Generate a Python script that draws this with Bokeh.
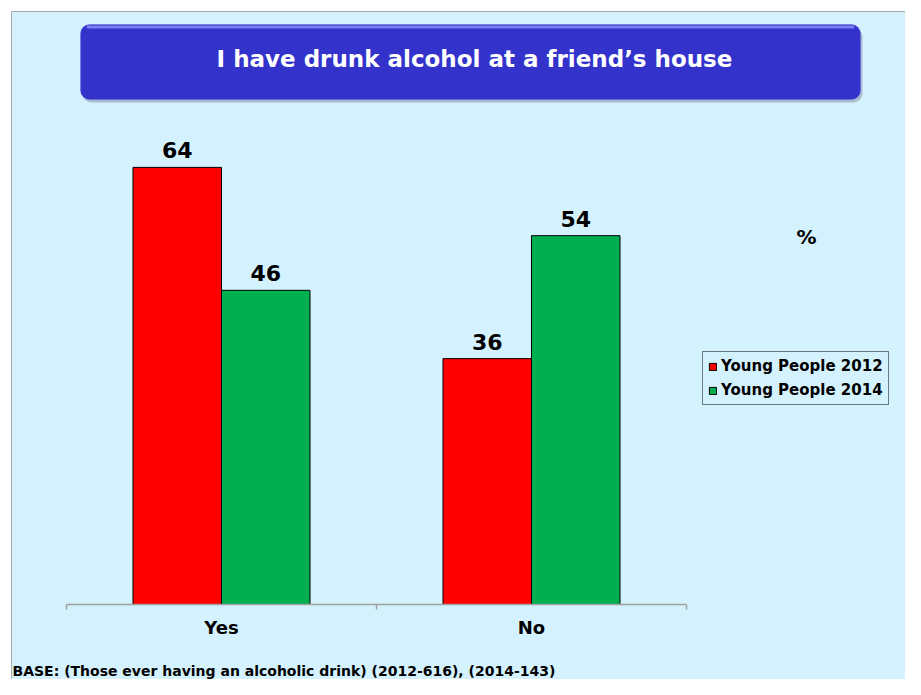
from bokeh.plotting import figure
from bokeh.models import Range1d, Legend, LegendItem, Label, BoxAnnotation, ColumnDataSource
from bokeh.core.properties import value
from bokeh.embed import file_html
from bokeh.resources import INLINE

categories = ["Yes", "No"]
series_names = ["Young People 2012", "Young People 2014"]
values_2012 = [64, 36]
values_2014 = [46, 54]
title_text = "I have drunk alcohol at a friend\u2019s house"
base_text = "BASE: (Those ever having an alcoholic drink) (2012-616), (2014-143)"
unit_text = "%"

BG = "#D4F2FE"
RED = "#FF0000"
GREEN = "#00B050"
AXIS = "#A0A0A0"
FONT = "DejaVu Sans"

W, H = 905, 679
# layout (pixels): category axis from x=66 to 686, baseline at y=604 (from top)
AX_L, AX_R, BASE_Y = 66, 686, 604
px_per_cat = (AX_R - AX_L) / len(categories)
px_per_unit = 6.83

p = figure(width=W, height=H, output_backend="svg", toolbar_location=None,
           x_range=Range1d(-AX_L / px_per_cat, (W - AX_L) / px_per_cat),
           y_range=Range1d(-(H - BASE_Y) / px_per_unit, BASE_Y / px_per_unit),
           x_axis_location=None, y_axis_location=None,
           min_border=0)
p.border_fill_color = "white"
p.background_fill_color = "white"
p.outline_line_color = None
p.grid.visible = False


def sy(img_y):
    return H - img_y


def box(l, r, t, b, **kw):
    return BoxAnnotation(left=l, right=r, top=sy(t), bottom=sy(b),
                         left_units="screen", right_units="screen",
                         bottom_units="screen", top_units="screen", **kw)


# page background panel with left/top black border
p.add_layout(box(11, W + 10, 11, H + 10, fill_color=BG, fill_alpha=1.0,
                 line_color="black", line_width=1, level="underlay"))

bw = 0.2855
off = 0.1427
centers = [i + 0.5 for i in range(len(categories))]
src12 = ColumnDataSource(dict(x=[c - off for c in centers], top=values_2012,
                              label=[str(v) for v in values_2012]))
src14 = ColumnDataSource(dict(x=[c + off for c in centers], top=values_2014,
                              label=[str(v) for v in values_2014]))

r12 = p.vbar(x="x", top="top", width=bw, source=src12, fill_color=RED, line_color="black", line_width=1)
r14 = p.vbar(x="x", top="top", width=bw, source=src14, fill_color=GREEN, line_color="black", line_width=1)

for s in (src12, src14):
    p.text(x="x", y="top", text="label", source=s, text_align="center", text_baseline="bottom",
           y_offset=-9, text_font=value(FONT), text_font_style="bold", text_font_size="22px",
           text_color="black")

# category axis: baseline, separator ticks and labels
bounds = list(range(len(categories) + 1))
p.segment(x0=[0], y0=[0], x1=[len(categories)], y1=[0], line_color=AXIS, line_width=1.5)
p.segment(x0=bounds, y0=[0] * len(bounds), x1=bounds, y1=[-5 / px_per_unit] * len(bounds),
          line_color=AXIS, line_width=1.5)
p.text(x=centers, y=[0] * len(centers), text=categories, text_align="center", text_baseline="top",
       y_offset=12, text_font=value(FONT), text_font_style="bold", text_font_size="18px",
       text_color="black")

# title box
tl, tr_, tt, tb = 80, 860, 24, 99
p.add_layout(box(tl + 2, tr_ + 2, tt + 3, tb + 3, fill_color="#8A9AB0", fill_alpha=0.6,
                 line_color=None, border_radius=9))
p.add_layout(box(tl, tr_, tt, tb, fill_color="#3333CC", fill_alpha=1.0,
                 line_color="#5555DD", line_width=1, border_radius=9))
p.add_layout(box(tl + 6, tr_ - 6, tt + 1, tt + 4, fill_color="#7D7DF0", fill_alpha=1.0,
                 line_color=None, border_radius=2))
p.add_layout(Label(x=474, y=sy(58), x_units="screen", y_units="screen",
                   text=title_text, text_align="center", text_baseline="middle",
                   text_font=FONT, text_font_style="bold", text_font_size="23px",
                   text_color="white"))

p.add_layout(Label(x=806, y=sy(236), x_units="screen", y_units="screen",
                   text=unit_text, text_align="center", text_baseline="middle",
                   text_font=FONT, text_font_style="bold", text_font_size="20px",
                   text_color="black"))

p.add_layout(Label(x=12, y=1, x_units="screen", y_units="screen",
                   text=base_text, text_align="left", text_baseline="bottom",
                   text_font=FONT, text_font_style="bold", text_font_size="14px",
                   text_color="black"))

legend = Legend(items=[LegendItem(label=series_names[0], renderers=[r12]),
                       LegendItem(label=series_names[1], renderers=[r14])],
                location=(702, sy(405)))
legend.label_text_font = FONT
legend.label_text_font_style = "bold"
legend.label_text_font_size = "15px"
legend.label_text_color = "black"
legend.glyph_width = 9
legend.glyph_height = 9
legend.label_standoff = 4
legend.padding = 5
legend.spacing = 6
legend.label_height = 18
legend.margin = 0
legend.border_line_color = "black"
legend.border_line_width = 1
legend.background_fill_color = BG
legend.background_fill_alpha = 1.0
p.add_layout(legend, "center")

open("out.html", "w").write(file_html(p, INLINE))
